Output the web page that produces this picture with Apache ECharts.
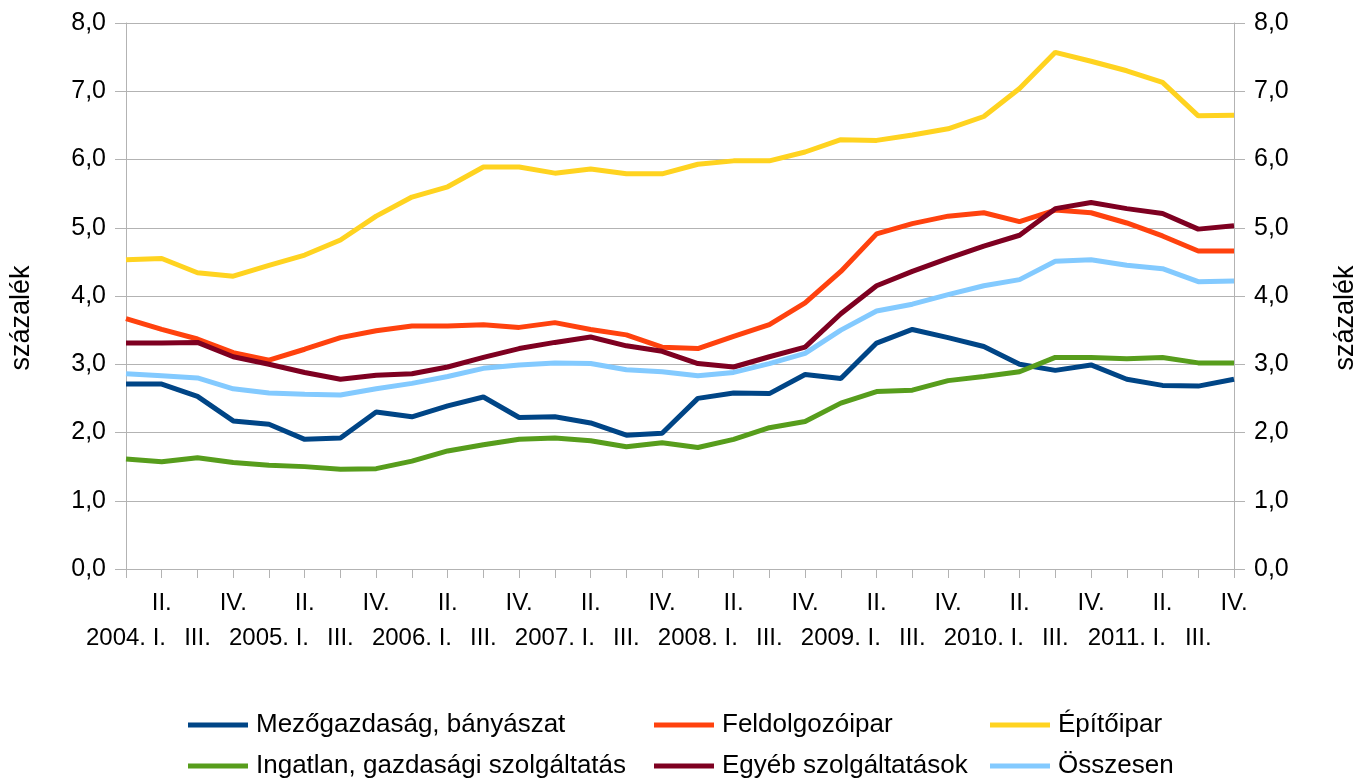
<!DOCTYPE html>
<html>
<head>
<meta charset="utf-8">
<script src="https://cdn.jsdelivr.net/npm/echarts@6/dist/echarts.min.js"></script>
<style>
  html, body { margin: 0; padding: 0; background: #fff; }
  #chart { width: 1368px; height: 778px; }
</style>
</head>
<body>
<div id="chart"></div>
<script>
// negyedévek
const categories = [
  '2004. I.', 'II.', 'III.', 'IV.',
  '2005. I.', 'II.', 'III.', 'IV.',
  '2006. I.', 'II.', 'III.', 'IV.',
  '2007. I.', 'II.', 'III.', 'IV.',
  '2008. I.', 'II.', 'III.', 'IV.',
  '2009. I.', 'II.', 'III.', 'IV.',
  '2010. I.', 'II.', 'III.', 'IV.',
  '2011. I.', 'II.', 'III.', 'IV.'
];

const mezogazdasag = [2.71, 2.71, 2.53, 2.17, 2.12, 1.90, 1.92, 2.30, 2.23, 2.39, 2.52, 2.22, 2.23, 2.14, 1.96, 1.99,
  2.50, 2.58, 2.57, 2.85, 2.79, 3.31, 3.51, 3.39, 3.26, 3.00, 2.91, 2.99, 2.78, 2.69, 2.68, 2.78];
const feldolgozoipar = [3.67, 3.51, 3.37, 3.17, 3.06, 3.22, 3.39, 3.49, 3.56, 3.56, 3.58, 3.54, 3.61, 3.51, 3.43, 3.25,
  3.23, 3.41, 3.58, 3.90, 4.36, 4.91, 5.06, 5.17, 5.22, 5.09, 5.26, 5.22, 5.07, 4.88, 4.66, 4.66];
const epitoipar = [4.53, 4.55, 4.34, 4.29, 4.45, 4.60, 4.82, 5.17, 5.45, 5.60, 5.89, 5.89, 5.80, 5.86, 5.79, 5.79,
  5.93, 5.98, 5.98, 6.11, 6.29, 6.28, 6.36, 6.45, 6.63, 7.04, 7.57, 7.44, 7.30, 7.13, 6.64, 6.65];
const ingatlan = [1.61, 1.57, 1.63, 1.56, 1.52, 1.50, 1.46, 1.47, 1.58, 1.73, 1.82, 1.90, 1.92, 1.88, 1.79, 1.85,
  1.78, 1.90, 2.07, 2.16, 2.43, 2.60, 2.62, 2.76, 2.82, 2.89, 3.10, 3.10, 3.08, 3.10, 3.02, 3.02];
const egyeb = [3.31, 3.31, 3.32, 3.11, 3.00, 2.88, 2.78, 2.84, 2.86, 2.96, 3.10, 3.23, 3.32, 3.40, 3.27, 3.19,
  3.01, 2.96, 3.11, 3.25, 3.74, 4.15, 4.36, 4.55, 4.73, 4.89, 5.28, 5.37, 5.28, 5.21, 4.98, 5.03];
const osszesen = [2.86, 2.83, 2.80, 2.64, 2.58, 2.56, 2.55, 2.64, 2.72, 2.82, 2.94, 2.99, 3.02, 3.01, 2.92, 2.89,
  2.83, 2.88, 3.01, 3.16, 3.50, 3.78, 3.88, 4.02, 4.15, 4.24, 4.51, 4.53, 4.45, 4.40, 4.21, 4.22];

const seriesNames = ['Mezőgazdaság, bányászat', 'Feldolgozóipar', 'Építőipar',
  'Ingatlan, gazdasági szolgáltatás', 'Egyéb szolgáltatások', 'Összesen'];
const seriesData = [mezogazdasag, feldolgozoipar, epitoipar, ingatlan, egyeb, osszesen];
const colors = ['#004586', '#ff420e', '#ffd320', '#579d1c', '#7e0021', '#83caff'];

const font = 'Liberation Sans, Arial, sans-serif';
const gray = '#b3b3b3';

let chart = echarts.init(document.getElementById('chart'));

//y tengely, két oldalon
function yAxis(pos) {
  return {
    type: 'value',
    position: pos,
    min: 0,
    max: 8,
    interval: 1,
    name: 'százalék',
    nameLocation: 'middle',
    nameRotate: 90,
    nameGap: pos == 'left' ? 91 : 98,
    // kicsit lejjebb tolva, mint a referencián
    nameTextStyle: { fontFamily: font, fontSize: 27, color: '#000', padding: [0, 44, 0, 0] },
    axisLine: { show: true, lineStyle: { color: gray } },
    axisTick: { show: true, length: 11, lineStyle: { color: gray } },
    axisLabel: {
      margin: 20,
      fontFamily: font,
      fontSize: 25,
      color: '#000',
      formatter: v => v.toFixed(1).replace('.', ',')
    },
    splitLine: { show: pos == 'left', lineStyle: { color: gray, width: 1 } }
  };
}

//jelmagyarázat oszloponként
function legendCol(names, left) {
  return {
    orient: 'vertical',
    left: left,
    top: 707,
    height: 120,
    data: names,
    icon: 'rect',
    itemWidth: 60,
    itemHeight: 5,
    itemGap: 15,
    textStyle: { fontFamily: font, fontSize: 26, color: '#000', lineHeight: 26, padding: [0, 0, 0, 3] }
  };
}

chart.setOption({
  animation: false,
  color: colors,
  grid: { left: 124, right: 134, top: 23, bottom: 209 },
  legend: [
    legendCol([seriesNames[0], seriesNames[3]], 183),
    legendCol([seriesNames[1], seriesNames[4]], 649),
    legendCol([seriesNames[2], seriesNames[5]], 985)
  ],
  xAxis: {
    type: 'category',
    data: categories,
    boundaryGap: false,
    axisLine: { show: true, lineStyle: { color: gray } },
    axisTick: { show: true, length: 9, interval: 0, lineStyle: { color: gray } },
    axisLabel: {
      interval: 0,
      margin: 17,
      fontFamily: font,
      fontSize: 24,
      lineHeight: 35,
      color: '#000',
      // páros index alul, páratlan felül
      formatter: (v, i) => i % 2 ? v + '\n ' : ' \n' + v
    },
    splitLine: { show: false }
  },
  yAxis: [yAxis('left'), yAxis('right')],
  series: seriesNames.map((n, k) => ({
    name: n,
    type: 'line',
    data: seriesData[k],
    symbol: 'none',
    lineStyle: { width: 5, color: colors[k] },
    itemStyle: { color: colors[k] }
  }))
});

window.onresize = function () { chart.resize(); };
</script>
</body>
</html>
